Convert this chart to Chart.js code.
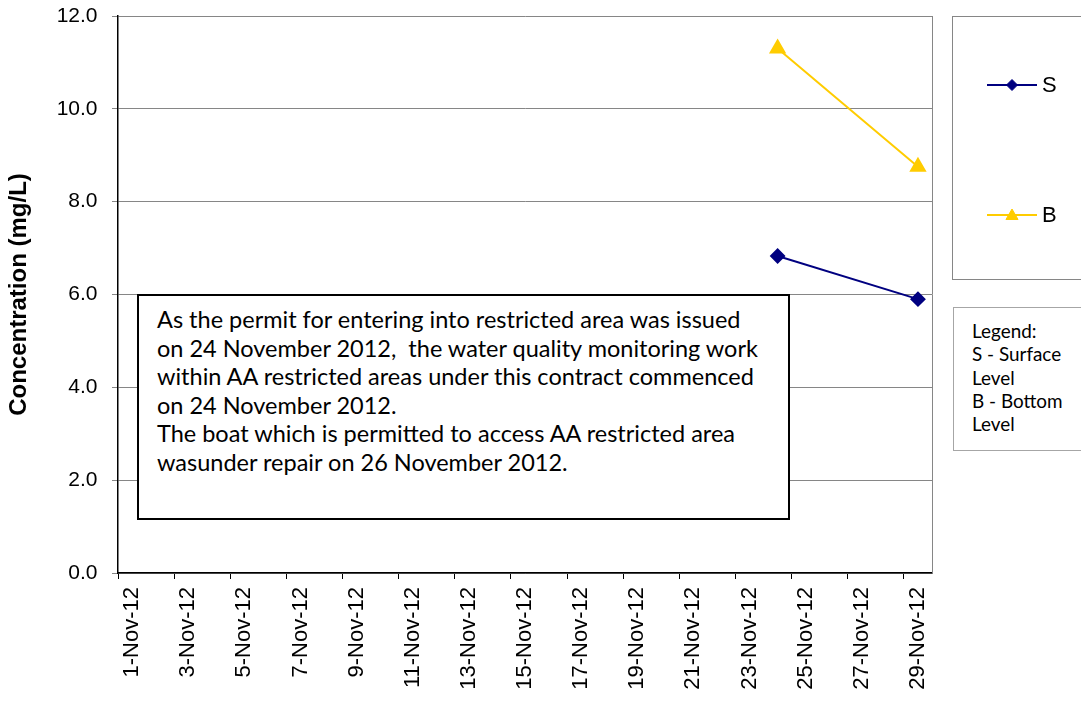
<!DOCTYPE html>
<html>
<head>
  <title>Concentration</title>
  <script src="https://cdn.jsdelivr.net/npm/chart.js"></script>
  <style>
    body { margin: 0; background: #fff; overflow: hidden; }
    #wrap { position: relative; width: 1081px; height: 701px; }
    .note {
      position: absolute; box-sizing: border-box; background: #fff;
      font-family: Lato, "Open Sans", sans-serif; color: #000; white-space: nowrap;
    }
    #remark {
      left: 137px; top: 294px; width: 653px; height: 226px;
      border: 2px solid #000; padding: 9px 0 0 18px;
      font-size: 23.5px; line-height: 28.5px;
    }
    #key {
      left: 953px; top: 307px; width: 200px; height: 144px;
      border: 1px solid #a6a6a6; padding: 11px 0 0 18px;
      font-size: 18.9px; line-height: 23.3px;
    }
  </style>
</head>
<body>
  <div id="wrap">
    <canvas id="chart" width="1081" height="701"></canvas>
    <div class="note" id="remark">As the permit for entering into restricted area was issued<br>on 24 November 2012, &nbsp;the water quality monitoring work<br>within AA restricted areas under this contract commenced<br>on 24 November 2012.<br>The boat which is permitted to access AA restricted area<br>wasunder repair on 26 November 2012.</div>
    <div class="note" id="key">Legend:<br>S - Surface<br>Level<br>B - Bottom<br>Level</div>
  </div>
  <script>
    const days = ['1-Nov-12', '2-Nov-12', '3-Nov-12', '4-Nov-12', '5-Nov-12', '6-Nov-12', '7-Nov-12',
      '8-Nov-12', '9-Nov-12', '10-Nov-12', '11-Nov-12', '12-Nov-12', '13-Nov-12', '14-Nov-12',
      '15-Nov-12', '16-Nov-12', '17-Nov-12', '18-Nov-12', '19-Nov-12', '20-Nov-12', '21-Nov-12',
      '22-Nov-12', '23-Nov-12', '24-Nov-12', '25-Nov-12', '26-Nov-12', '27-Nov-12', '28-Nov-12',
      '29-Nov-12'];
    const sampleDays = ['24-Nov-12', '29-Nov-12'];
    const surface = [6.83, 5.90];
    const bottom = [11.30, 8.75];
    const yTicks = [0, 2, 4, 6, 8, 10, 12];

    const fontFamily = '"Liberation Sans", Arial, sans-serif';

    // box with the series key, drawn at the right of the plot
    const keyBox = {
      id: 'keyBox',
      afterDraw(chart) {
        const ctx = chart.ctx;
        const area = chart.chartArea;
        ctx.save();
        // grey plot border on the right
        ctx.strokeStyle = '#868686';
        ctx.lineWidth = 1;
        ctx.beginPath();
        ctx.moveTo(area.right + 0.5, area.top);
        ctx.lineTo(area.right + 0.5, area.bottom);
        ctx.stroke();

        ctx.strokeRect(952.5, 16.5, 200, 263);
        const rows = [85, 215];
        chart.data.datasets.forEach((ds, i) => {
          const y = rows[i];
          ctx.strokeStyle = ds.borderColor;
          ctx.lineWidth = 2;
          ctx.beginPath();
          ctx.moveTo(987, y);
          ctx.lineTo(1037, y);
          ctx.stroke();
          ctx.fillStyle = ds.pointBackgroundColor;
          ctx.strokeStyle = ds.pointBorderColor;
          ctx.lineWidth = 1;
          Chart.helpers.drawPoint(ctx, { pointStyle: ds.pointStyle, radius: ds.pointRadius - 1, rotation: 0, borderWidth: 1 }, 1012, y + (ds.pointStyle === 'triangle' ? 1 : 0));
          ctx.fillStyle = '#000';
          ctx.font = '22px ' + fontFamily;
          ctx.textBaseline = 'middle';
          ctx.fillText(ds.label, 1042, y + 1);
        });
        ctx.restore();
      }
    };

    new Chart(document.getElementById('chart'), {
      type: 'line',
      data: {
        labels: days,
        datasets: [{
          label: 'S',
          data: sampleDays.map((d, i) => ({ x: d, y: surface[i] })),
          borderColor: '#000080',
          backgroundColor: '#000080',
          pointBackgroundColor: '#000080',
          pointBorderColor: '#000080',
          pointStyle: 'rectRot',
          pointRadius: 6.5,
          borderWidth: 2,
          fill: false
        }, {
          label: 'B',
          data: sampleDays.map((d, i) => ({ x: d, y: bottom[i] })),
          borderColor: '#FFCC00',
          backgroundColor: '#FFCC00',
          pointBackgroundColor: '#FFCC00',
          pointBorderColor: '#FFCC00',
          pointStyle: 'triangle',
          pointRadius: 8,
          borderWidth: 2,
          fill: false
        }]
      },
      options: {
        responsive: false,
        animation: false,
        devicePixelRatio: 1,
        layout: { padding: { left: 0, top: 16, right: 149, bottom: 0 } },
        plugins: {
          legend: { display: false },
          tooltip: { enabled: false }
        },
        scales: {
          x: {
            type: 'category',
            offset: true,
            afterFit: s => { s.height = 128; s.paddingLeft = 0; s.paddingRight = 0; },
            border: { color: '#000', width: 1.5 },
            grid: {
              offset: true,
              drawOnChartArea: false,
              tickLength: 6,
              color: c => (c.index % 2 === 0 ? '#000' : 'rgba(0,0,0,0)')
            },
            ticks: {
              autoSkip: false,
              minRotation: 90,
              maxRotation: 90,
              padding: 8,
              color: '#000',
              font: { family: fontFamily, size: 22 },
              callback: (v, i) => (i % 2 === 0 ? days[i] : '')
            }
          },
          y: {
            min: 0,
            max: 12,
            afterFit: s => { s.width = 118; s.paddingTop = 0; s.paddingBottom = 0; },
            afterBuildTicks: s => { s.ticks = yTicks.map(v => ({ value: v })); },
            border: { color: '#000', width: 1.5 },
            grid: { color: '#868686', tickLength: 6 },
            ticks: {
              padding: 14.5,
              color: '#000',
              font: { family: fontFamily, size: 21 },
              callback: v => v.toFixed(1)
            },
            title: {
              display: true,
              text: 'Concentration (mg/L)',
              color: '#000',
              padding: { top: 5, bottom: 0 },
              font: { family: fontFamily, size: 24, weight: 'bold' }
            }
          }
        }
      },
      plugins: [keyBox]
    });
  </script>
</body>
</html>
